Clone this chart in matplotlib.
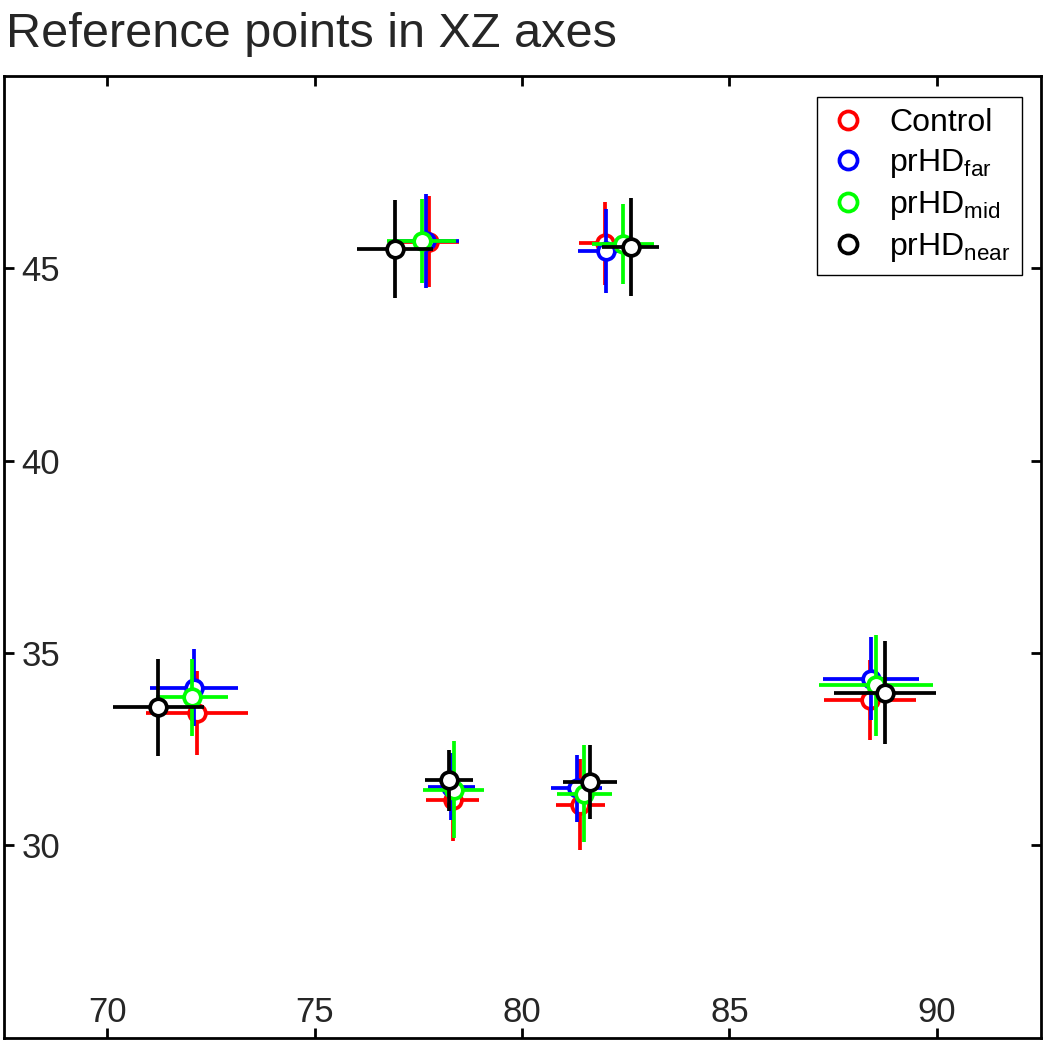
import matplotlib
matplotlib.use('Agg')
import matplotlib.pyplot as plt
from matplotlib.lines import Line2D

plt.rcParams['font.family'] = ['Liberation Sans', 'DejaVu Sans']
plt.rcParams['mathtext.fontset'] = 'custom'
plt.rcParams['mathtext.rm'] = 'Liberation Sans'

# groups and colours
groups = ['Control', 'prHD$_{\\mathregular{far}}$', 'prHD$_{\\mathregular{mid}}$', 'prHD$_{\\mathregular{near}}$']
colors = ['#ff0000', '#0000ff', '#00ff00', '#000000']

# reference point means (x, z) and errors, one row per group
x_means = [
    [72.16, 77.76, 82.00, 78.33, 81.40, 88.39],
    [72.09, 77.69, 82.02, 78.30, 81.32, 88.41],
    [72.04, 77.58, 82.44, 78.35, 81.50, 88.53],
    [71.23, 76.94, 82.62, 78.24, 81.64, 88.75],
]
z_means = [
    [33.45, 45.69, 45.65, 31.19, 31.06, 33.78],
    [34.10, 45.71, 45.45, 31.53, 31.49, 34.33],
    [33.85, 45.71, 45.63, 31.45, 31.34, 34.16],
    [33.59, 45.50, 45.55, 31.69, 31.65, 33.97],
]
x_err = [
    [1.23, 0.71, 0.62, 0.64, 0.59, 1.10],
    [1.07, 0.80, 0.67, 0.56, 0.61, 1.15],
    [0.87, 0.84, 0.75, 0.74, 0.66, 1.37],
    [1.10, 0.92, 0.69, 0.57, 0.64, 1.24],
]
z_err = [
    [1.09, 1.18, 1.08, 1.07, 1.18, 1.03],
    [1.00, 1.22, 1.09, 0.87, 0.87, 1.08],
    [1.00, 1.09, 1.04, 1.25, 1.26, 1.31],
    [1.26, 1.27, 1.27, 0.79, 0.97, 1.33],
]

xticks = [70, 75, 80, 85, 90]
yticks = [30, 35, 40, 45]

fig = plt.figure(figsize=(10.5, 10.4), dpi=100)
ax = fig.add_axes([3.5 / 1050, 1 - 1037.7 / 1040, 1037 / 1050, 961.7 / 1040])

for i in range(len(groups)):
    ax.errorbar(x_means[i], z_means[i], xerr=x_err[i], yerr=z_err[i],
                fmt='o', color=colors[i], ecolor=colors[i], elinewidth=2.7,
                capsize=0, markersize=12, markeredgewidth=2.7,
                markerfacecolor='white', markeredgecolor=colors[i], zorder=2 + i)

ax.set_xlim(67.5, 92.5)
ax.set_ylim(25, 50)
ax.set_xticks(xticks)
ax.set_yticks(yticks)

# inward ticks on every side, labels inside the box
ax.tick_params(direction='in', length=7, width=2, top=True, right=True,
               labelsize=25, labelcolor='#262626')
ax.tick_params(axis='x', pad=-30)
ax.tick_params(axis='y', pad=-13)
for lbl in ax.get_yticklabels():
    lbl.set_horizontalalignment('left')
for s in ax.spines.values():
    s.set_linewidth(2)

handles = [Line2D([], [], linestyle='none', marker='o', markersize=13,
                  markeredgewidth=2.7, markerfacecolor='white',
                  markeredgecolor=c) for c in colors]
leg = ax.legend(handles, groups, loc='upper right', bbox_to_anchor=(0.982, 0.978),
                borderaxespad=0, fontsize=23, fancybox=False, edgecolor='black',
                framealpha=1, handlelength=1.2, handletextpad=0.7,
                labelspacing=0.28, borderpad=0.35)
leg.get_frame().set_linewidth(1)

fig.text(6 / 1050, 1 - 47 / 1040, 'Reference points in XZ axes', fontsize=35,
         color='#262626', ha='left', va='baseline')

fig.savefig('out.png', dpi=100)
